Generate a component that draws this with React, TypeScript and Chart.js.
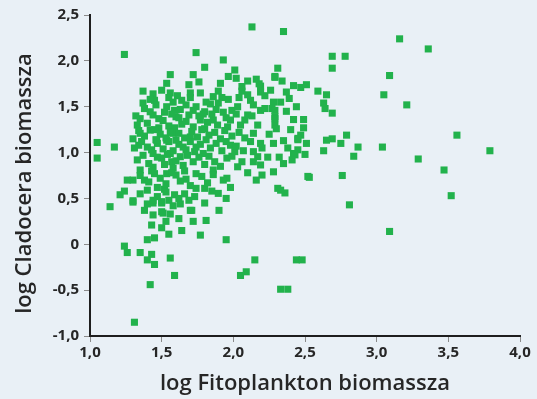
import React, { useEffect, useRef } from 'react';
import { Chart, registerables } from 'chart.js';

Chart.register(...registerables);

// log10 phytoplankton biomass (x) for each sampled lake / date
const fitoLog: number[] = [
  // scattered samples
  1.05, 1.17, 1.05, 1.24, 2.13, 1.74, 1.93, 1.80, 1.37, 2.35,
  3.16, 3.36, 2.69, 2.78, 2.69, 3.09, 3.05, 3.21, 2.31, 2.39,
  3.56, 3.79, 3.04, 3.29, 3.47, 3.52, 2.79, 2.87, 2.84, 2.75,
  2.69, 2.63, 2.76, 2.53, 2.59, 2.65, 2.63, 2.64, 2.69, 2.51,
  2.47, 2.42, 2.34, 2.29, 2.28, 2.27, 2.29, 2.29, 2.30, 2.42,
  2.49, 2.49, 2.47, 2.45, 2.35, 2.51, 2.45, 2.42, 2.50, 2.41,
  2.35, 2.28, 2.31, 2.36, 2.81, 3.09, 2.44, 2.48, 2.33, 2.38,
  1.14, 1.30, 1.38, 1.44, 1.50, 1.63, 1.71, 1.90, 1.44, 1.51,
  1.56, 1.53, 1.62, 1.72, 1.81, 1.43, 1.50, 1.64, 1.55, 1.45,
  1.40, 1.77, 1.95, 1.24, 1.26, 1.35, 1.43, 1.40, 1.45, 1.56,
  1.59, 1.42, 1.31, 2.05, 2.09, 2.15,
  // upper part of the main cloud
  1.56, 1.72, 1.76, 1.535, 1.44, 1.50, 1.56, 1.69, 1.70, 1.64,
  1.77, 1.81, 1.37, 1.45, 1.535, 1.59, 1.72, 1.42, 1.35, 1.48,
  1.60, 1.67, 1.33, 1.77, 1.80,
  2.01, 1.965, 2.02, 1.91, 1.895, 2.06, 1.965, 1.895, 1.99, 1.86,
  1.98, 2.08, 2.10, 2.12, 2.10, 2.19, 2.16, 2.19, 2.14, 2.19,
  2.29, 2.37, 2.29, 2.29,
  // middle and lower part of the main cloud
  1.35, 1.42, 1.34, 1.40, 1.465, 1.44, 1.50, 1.56, 1.57, 1.63,
  1.65, 1.60, 1.535, 1.58, 1.70, 1.74, 1.79, 1.35, 1.30, 1.38,
  1.45, 1.535, 1.60, 1.67, 1.74, 1.74, 1.80, 1.40, 1.52, 1.59,
  1.21, 1.30, 1.44, 1.50, 1.62, 1.69, 1.50, 1.70,
  1.98, 2.01, 1.955, 2.03, 1.86, 1.955, 1.895, 2.14, 2.17, 2.19,
  2.20, 2.16, 2.19, 2.14, 2.33, 2.43, 2.45, 2.65, 2.52,
  // dense core
  1.38, 1.46, 1.52, 1.58, 1.63, 1.67, 1.74, 1.79, 1.84, 1.88,
  1.93, 2.03, 1.55, 1.70, 1.86, 1.42, 1.61, 1.92,
  1.32, 1.40, 1.44, 1.51, 1.55, 1.57, 1.64, 1.69, 1.72, 1.76,
  1.82, 1.85, 1.89, 1.95, 2.02, 1.48, 1.62, 1.80, 1.96, 2.05,
  1.34, 1.38, 1.45, 1.49, 1.53, 1.59, 1.62, 1.66, 1.71, 1.75,
  1.78, 1.83, 1.87, 1.91, 1.94, 1.99, 2.04, 2.08, 1.30, 1.56,
  1.31, 1.36, 1.43, 1.47, 1.51, 1.55, 1.58, 1.62, 1.67, 1.70,
  1.73, 1.77, 1.81, 1.84, 1.88, 1.92, 1.95, 2.02, 2.07, 1.46,
  1.33, 1.37, 1.41, 1.47, 1.52, 1.54, 1.60, 1.65, 1.68, 1.72,
  1.76, 1.80, 1.83, 1.87, 1.91, 1.99, 2.06, 1.44, 1.58,
  1.35, 1.41, 1.43, 1.49, 1.53, 1.57, 1.63, 1.66, 1.70, 1.78,
  1.82, 1.86, 1.93, 1.98, 2.10, 1.47, 1.26,
  1.35, 1.40, 1.47, 1.53, 1.58, 1.66, 1.73, 1.80, 1.85, 1.95,
  1.24, 1.55,
  2.13, 2.17, 2.22, 2.25, 2.12, 2.20, 2.24, 2.14, 2.22, 2.18,
  2.26, 2.33, 2.37, 2.40, 2.38, 2.32, 2.28, 2.44, 2.10, 2.06,
  2.04,
];

// log10 Cladocera biomass (y), same order as fitoLog
const cladoLog: number[] = [
  // scattered samples
  1.11, 1.06, 0.94, 2.07, 2.37, 2.09, 2.01, 1.93, 1.67, 2.32,
  2.24, 2.13, 2.05, 2.05, 1.92, 1.84, 1.63, 1.52, 1.92, 1.59,
  1.19, 1.02, 1.06, 0.93, 0.81, 0.53, 1.19, 1.06, 0.96, 1.10,
  1.15, 1.02, 0.75, 0.73, 1.67, 1.63, 1.54, 1.48, 1.43, 1.74,
  1.71, 1.73, 1.78, 1.82, 1.55, 1.48, 1.39, 1.30, 1.26, 1.36,
  1.36, 1.27, 1.19, 1.14, 1.13, 1.10, 1.03, 0.99, 0.98, 0.92,
  0.88, 0.79, 0.61, 0.56, 0.43, 0.14, -0.17, -0.17, -0.49, -0.49,
  0.41, 0.46, 0.37, 0.45, 0.45, 0.44, 0.37, 0.37, 0.32, 0.34,
  0.33, 0.25, 0.28, 0.25, 0.26, 0.21, 0.18, 0.15, 0.11, 0.07,
  0.05, 0.10, 0.05, -0.02, -0.09, -0.09, -0.11, -0.17, -0.22, -0.15,
  -0.34, -0.44, -0.85, -0.34, -0.30, -0.17,
  // upper part of the main cloud
  1.85, 1.85, 1.77, 1.755, 1.64, 1.68, 1.65, 1.74, 1.65, 1.57,
  1.65, 1.55, 1.54, 1.57, 1.50, 1.46, 1.46, 1.445, 1.37, 1.37,
  1.39, 1.34, 1.30, 1.355, 1.445,
  1.90, 1.83, 1.81, 1.755, 1.67, 1.67, 1.58, 1.54, 1.46, 1.355,
  1.355, 1.355, 1.41, 1.57, 1.63, 1.66, 1.80, 1.725, 1.52, 1.46,
  1.83, 1.66, 1.46, 1.37,
  // middle and lower part of the main cloud
  1.21, 1.245, 1.08, 1.06, 1.135, 0.99, 0.94, 0.99, 0.90, 0.955,
  1.06, 1.135, 1.135, 1.21, 1.17, 1.06, 0.99, 0.81, 0.70, 0.70,
  0.77, 0.77, 0.755, 0.71, 0.77, 0.61, 0.61, 0.59, 0.60, 0.54,
  0.54, 0.475, 0.48, 0.465, 0.50, 0.48, 0.355, 0.37,
  1.08, 1.01, 0.94, 0.845, 0.81, 0.72, 0.555, 1.01, 0.955, 0.865,
  0.755, 0.70, 1.10, 1.21, 0.59, 0.975, 1.155, 1.135, 0.74,
  // dense core
  1.48, 1.52, 1.44, 1.55, 1.47, 1.52, 1.50, 1.42, 1.53, 1.47,
  1.44, 1.50, 1.60, 1.60, 1.61, 1.58, 1.62, 1.60,
  1.40, 1.32, 1.41, 1.35, 1.29, 1.42, 1.31, 1.41, 1.28, 1.40,
  1.33, 1.42, 1.30, 1.38, 1.42, 1.27, 1.38, 1.26, 1.28, 1.30,
  1.24, 1.18, 1.25, 1.20, 1.16, 1.27, 1.21, 1.16, 1.23, 1.17,
  1.25, 1.19, 1.22, 1.15, 1.24, 1.18, 1.22, 1.16, 1.15, 1.22,
  1.05, 1.12, 1.03, 1.10, 1.04, 1.12, 1.02, 1.09, 1.03, 1.12,
  1.01, 1.09, 1.14, 1.05, 1.10, 1.02, 1.12, 1.07, 1.02, 1.14,
  0.92, 0.97, 0.88, 0.95, 0.87, 0.98, 0.91, 0.86, 0.97, 0.90,
  0.95, 0.87, 0.96, 0.90, 0.85, 0.96, 0.90, 0.84, 0.83,
  0.75, 0.68, 0.80, 0.72, 0.66, 0.78, 0.69, 0.80, 0.64, 0.74,
  0.67, 0.76, 0.70, 0.62, 0.78, 0.62, 0.70,
  0.55, 0.44, 0.52, 0.57, 0.42, 0.55, 0.52, 0.45, 0.58, 0.50,
  0.58, 0.48,
  1.40, 1.30, 1.48, 1.20, 1.12, 1.05, 0.95, 0.90, 1.62, 1.75,
  1.68, 1.55, 1.45, 1.25, 1.05, 0.95, 1.10, 1.50, 1.78, 1.72,
  1.60,
];

const X_TITLE = 'log Fitoplankton biomassza';
const Y_TITLE = 'log Cladocera biomassza';

const BACKGROUND = '#e9f0f6';
const POINT_COLOR = '#22b24c';
const TEXT_COLOR = '#262626';
const FONT_FAMILY = "'Open Sans', sans-serif";

// decimal comma, plain "0" for zero
const formatTick = (v: number | string) => {
  const n = Number(v);
  if (Math.abs(n) < 1e-9) return '0';
  return n.toFixed(1).replace('.', ',');
};

// axis titles drawn relative to the plot area
const axisTitles = {
  id: 'axisTitles',
  afterDraw(chart: any) {
    const { ctx, chartArea } = chart;
    ctx.save();
    ctx.fillStyle = TEXT_COLOR;
    ctx.font = `600 22px ${FONT_FAMILY}`;
    ctx.textAlign = 'center';
    ctx.textBaseline = 'alphabetic';
    ctx.fillText(X_TITLE, (chartArea.left + chartArea.right) / 2, chartArea.bottom + 54);
    ctx.translate(chartArea.left - 59, (chartArea.top + chartArea.bottom) / 2 + 8);
    ctx.rotate(-Math.PI / 2);
    ctx.fillText(Y_TITLE, 0, 0);
    ctx.restore();
  },
};

export default function App() {
  const canvasRef = useRef<HTMLCanvasElement>(null);

  useEffect(() => {
    document.body.style.margin = '0';
    const canvas = canvasRef.current;
    if (!canvas) return;

    const points = fitoLog.map((x, i) => ({ x, y: cladoLog[i] }));
    const tickFont = { family: FONT_FAMILY, size: 15, weight: 'bold' as const };

    const chart = new Chart(canvas, {
      type: 'scatter',
      data: {
        datasets: [
          {
            data: points,
            backgroundColor: POINT_COLOR,
            borderColor: POINT_COLOR,
            borderWidth: 0,
            pointStyle: 'rect',
            pointRadius: 5,
          },
        ],
      },
      options: {
        animation: false,
        responsive: false,
        maintainAspectRatio: false,
        layout: { padding: { left: 0, right: 17, top: 15, bottom: 0 } },
        plugins: {
          legend: { display: false },
          tooltip: { enabled: false },
        },
        scales: {
          x: {
            type: 'linear',
            min: 1,
            max: 4,
            afterFit: (scale: any) => {
              scale.height = 63;
            },
            ticks: {
              stepSize: 0.5,
              callback: formatTick,
              color: TEXT_COLOR,
              font: tickFont,
              padding: 2,
              maxRotation: 0,
            },
            grid: { drawOnChartArea: false, tickLength: 6, color: '#8a8a8a', lineWidth: 1 },
            border: { display: true, color: '#1e1e1e', width: 2 },
          },
          y: {
            type: 'linear',
            min: -1,
            max: 2.5,
            afterFit: (scale: any) => {
              scale.width = 90;
            },
            ticks: {
              stepSize: 0.5,
              callback: formatTick,
              color: TEXT_COLOR,
              font: tickFont,
              padding: 5,
            },
            grid: { drawOnChartArea: false, tickLength: 6, color: '#8a8a8a', lineWidth: 1 },
            border: { display: true, color: '#1e1e1e', width: 2 },
          },
        },
      },
      plugins: [axisTitles],
    });

    return () => chart.destroy();
  }, []);

  return (
    <div style={{ width: 537, height: 399, background: BACKGROUND }}>
      <canvas ref={canvasRef} width={537} height={399} style={{ display: 'block' }} />
    </div>
  );
}
